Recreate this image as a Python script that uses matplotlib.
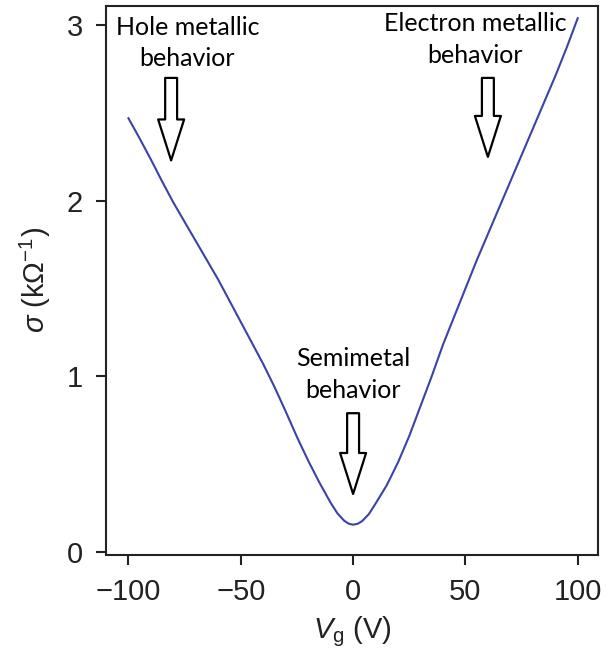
import matplotlib
matplotlib.use("Agg")
import matplotlib.pyplot as plt

# Gate-voltage sweep of the sheet conductance
vg = [-100, -95, -90, -85, -80, -75, -70, -65, -60, -55, -50, -45, -40, -35,
      -30, -25, -20, -15, -10, -7, -4, -2, 0, 2, 4, 7, 10, 15, 20, 25, 30,
      35, 40, 45, 50, 55, 60, 65, 70, 75, 80, 85, 90, 95, 100]
sigma = [2.47, 2.355, 2.235, 2.11, 1.99, 1.88, 1.77, 1.66, 1.55, 1.43, 1.31,
         1.19, 1.07, 0.94, 0.80, 0.655, 0.52, 0.395, 0.28, 0.22, 0.178, 0.161,
         0.155, 0.16, 0.175, 0.215, 0.275, 0.38, 0.51, 0.66, 0.83, 1.00, 1.18,
         1.34, 1.50, 1.66, 1.81, 1.96, 2.11, 2.26, 2.41, 2.56, 2.71, 2.87,
         3.04]

x_ticks = [-100, -50, 0, 50, 100]
y_ticks = [0, 1, 2, 3]

# Regime labels: text, text anchor (x, y), arrow tip (x, y), arrow tail (x, y)
regime_labels = ["Hole metallic\nbehavior", "Electron metallic\nbehavior",
                 "Semimetal\nbehavior"]
label_xy = [(-73.8, 2.90), (54.2, 2.92), (0.0, 1.01)]
arrow_tip = [(-81.0, 2.23), (60.0, 2.25), (0.0, 0.33)]
arrow_tail = [(-81.0, 2.70), (60.0, 2.70), (0.0, 0.79)]

plt.rcParams["font.family"] = ["Liberation Sans", "DejaVu Sans"]
plt.rcParams["mathtext.fontset"] = "custom"
plt.rcParams["mathtext.rm"] = "Liberation Sans"
plt.rcParams["mathtext.it"] = "Liberation Sans:italic"

fig = plt.figure(figsize=(6.07, 6.59), dpi=100)
ax = fig.add_axes([0.1746, 0.158, 0.8105, 0.833])

ax.plot(vg, sigma, color="#3b43a6", lw=1.5, solid_joinstyle="round")

ax.set_xlim(-110, 109)
ax.set_ylim(-0.017, 3.11)
ax.set_xticks(x_ticks)
ax.set_yticks(y_ticks)
ax.set_xticklabels(["\u2212100", "\u221250", "0", "50", "100"])
ax.tick_params(axis="both", direction="out", length=7.5, width=1.5,
               labelsize=21, colors="#222222")
ax.tick_params(axis="x", pad=9)
ax.tick_params(axis="y", pad=9)
for sp in ax.spines.values():
    sp.set_linewidth(1.5)
    sp.set_color("#222222")

ax.set_xlabel(r"$V_{\rm g}$ (V)", fontsize=21, color="#222222", labelpad=6)
ax.set_ylabel(r"$\sigma$ (k$\Omega^{-1}$)", fontsize=21, color="#222222",
              labelpad=10)

for text, (tx, ty), tip, tail in zip(regime_labels, label_xy, arrow_tip,
                                     arrow_tail):
    ax.text(tx, ty, text, ha="center", va="center", fontsize=18,
            family="Lato", linespacing=1.45, color="black")
    ax.annotate("", xy=tip, xytext=tail,
                arrowprops=dict(arrowstyle="simple,head_length=2.95,"
                                "head_width=1.87,tail_width=0.86",
                                mutation_scale=10, fc="white", ec="black",
                                lw=1.6, shrinkA=0, shrinkB=0))

fig.savefig("out.png", dpi=100)
